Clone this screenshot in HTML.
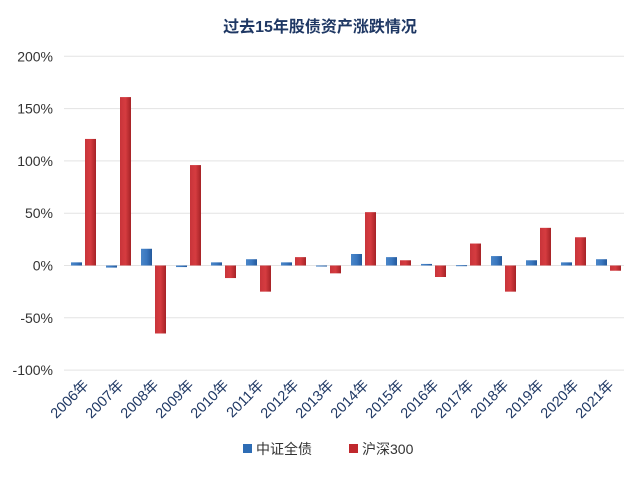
<!DOCTYPE html>
<html><head><meta charset="utf-8"><style>
body{margin:0;background:#fff;width:640px;height:474px;overflow:hidden;font-family:"Liberation Sans","Noto Sans CJK SC",sans-serif}
</style></head><body>
<svg id="chart" width="640" height="474" xmlns="http://www.w3.org/2000/svg" font-family="Liberation Sans, Noto Sans CJK SC, sans-serif">
<defs>
<linearGradient id="gb" x1="0" x2="1"><stop offset="0" stop-color="#4a86c8"/><stop offset="0.5" stop-color="#3a78c0"/><stop offset="1" stop-color="#23599c"/></linearGradient>
<linearGradient id="gr" x1="0" x2="1"><stop offset="0" stop-color="#c8343a"/><stop offset="0.5" stop-color="#d63c40"/><stop offset="1" stop-color="#a52226"/></linearGradient>
</defs>
<text x="320" y="32" text-anchor="middle" font-size="16" font-weight="bold" fill="#1f3864">过去15年股债资产涨跌情况</text>
<g id="grid"></g><g id="bars"></g><g id="labels"></g>
<g>
<rect x="243" y="444" width="9" height="9" fill="#2e6db5"/>
<text x="256" y="454" font-size="14" fill="#333">中证全债</text>
<rect x="349" y="444" width="9" height="9" fill="#c0282d"/>
<text x="362" y="454" font-size="14" fill="#333">沪深300</text>
</g>
</svg>
<script>
const categories=["2006年","2007年","2008年","2009年","2010年","2011年","2012年","2013年","2014年","2015年","2016年","2017年","2018年","2019年","2020年","2021年"];
const bondValues=[3,-2,16,-1.5,3,6,3,-1,11,8,1.5,0.3,9,5,3,6];
const stockValues=[121,161,-65,96,-12,-25,8,-7.5,51,5,-11,21,-25,36,27,-5];
const tickValues=[200,150,100,50,0,-50,-100];
const tickLabels=["200%","150%","100%","50%","0%","-50%","-100%"];
const NS="http://www.w3.org/2000/svg";
const x0=64,x1=624,yZero=265.5,pxPer=52.3/50;
const y=v=>yZero-v*pxPer;
const gw=(x1-x0)/categories.length;
const xg=i=>x0+i*gw;
function mk(t,a){const e=document.createElementNS(NS,t);for(const k in a)e.setAttribute(k,a[k]);return e;}
const grid=document.getElementById('grid'),bars=document.getElementById('bars'),labels=document.getElementById('labels');
tickValues.forEach((v,i)=>{
 const l=mk('line',{x1:x0,x2:x1,y1:y(v),y2:y(v),stroke:'#e3e3e3','stroke-width':1});
 
 
 grid.appendChild(l);
 const t=mk('text',{x:53,y:y(v)+5,'text-anchor':'end','font-size':14,fill:'#333'});
 t.textContent=tickLabels[i];
 
 
 grid.appendChild(t);
});
categories.forEach((c,i)=>{
 const b=bondValues[i],s=stockValues[i];
 const rb=mk('rect',{x:xg(i)+7,width:11,y:Math.min(y(b),yZero),height:Math.max(1,Math.abs(y(b)-yZero)),fill:'url(#gb)'});
 
 
 bars.appendChild(rb);
 const rs=mk('rect',{x:xg(i)+21,width:11,y:Math.min(y(s),yZero),height:Math.max(1,Math.abs(y(s)-yZero)),fill:'url(#gr)'});
 
 
 bars.appendChild(rs);
 const cx=xg(i)+gw/2+8,cy=386;
 const t=mk('text',{x:cx,y:cy,'text-anchor':'end','font-size':14.5,fill:'#1f3864',transform:`rotate(-45 ${cx} ${cy})`});
 t.textContent=c;
 
 
 labels.appendChild(t);
});
</script>
</body></html>
